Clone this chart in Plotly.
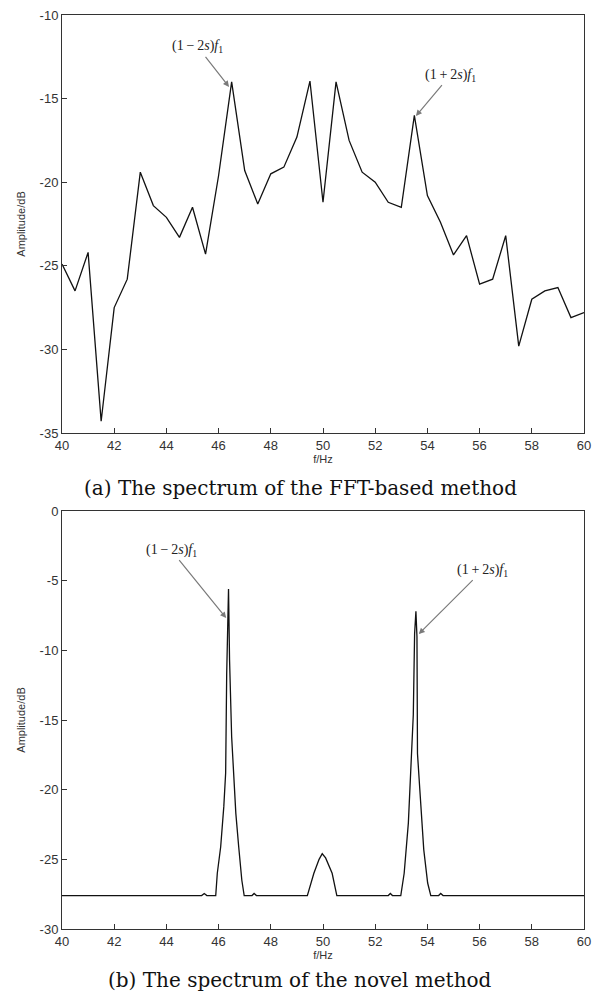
import plotly.graph_objects as go
from plotly.subplots import make_subplots

# ---- (a) FFT-based spectrum (0.5 Hz resolution) ----
freq_a = [40.0, 40.5, 41.0, 41.5, 42.0, 42.5, 43.0, 43.5, 44.0, 44.5, 45.0, 45.5,
          46.0, 46.5, 47.0, 47.5, 48.0, 48.5, 49.0, 49.5, 50.0, 50.5, 51.0, 51.5,
          52.0, 52.5, 53.0, 53.5, 54.0, 54.5, 55.0, 55.5, 56.0, 56.5, 57.0, 57.5,
          58.0, 58.5, 59.0, 59.5, 60.0]
amp_a = [-24.9, -26.5, -24.2, -34.3, -27.5, -25.8, -19.4, -21.4, -22.1, -23.3, -21.5, -24.3,
         -19.6, -14.0, -19.3, -21.3, -19.5, -19.1, -17.3, -13.95, -21.2, -14.0, -17.5, -19.4,
         -20.0, -21.2, -21.5, -16.0, -20.8, -22.4, -24.35, -23.2, -26.1, -25.8, -23.2, -29.8,
         -27.0, -26.5, -26.3, -28.1, -27.8]

# ---- (b) novel method spectrum (read points) ----
freq_b = [40.0, 45.35, 45.45, 45.55, 45.89, 45.95, 46.08, 46.20, 46.27, 46.31, 46.38,
          46.42, 46.50, 46.57, 46.66, 46.77, 46.89, 46.98, 47.28, 47.36, 47.45,
          49.40, 49.65, 49.85, 49.97, 50.10, 50.35, 50.53,
          52.50, 52.58, 52.66, 52.98, 53.11, 53.27, 53.38, 53.46, 53.51, 53.56,
          53.60, 53.62, 53.71, 53.86, 54.01, 54.13, 54.43, 54.51, 54.60, 60.0]
amp_b = [-27.6, -27.6, -27.45, -27.6, -27.6, -26.0, -24.1, -21.2, -18.8, -11.7, -5.6,
         -10.7, -16.2, -19.1, -21.7, -24.1, -26.5, -27.6, -27.6, -27.45, -27.6,
         -27.6, -26.0, -25.0, -24.6, -24.9, -26.0, -27.6,
         -27.6, -27.45, -27.6, -27.6, -26.0, -22.4, -17.9, -14.6, -8.8, -7.2,
         -9.0, -17.4, -20.0, -24.3, -26.7, -27.6, -27.6, -27.45, -27.6, -27.6]

x_ticks = [40, 42, 44, 46, 48, 50, 52, 54, 56, 58, 60]
y_ticks_a = [-10, -15, -20, -25, -30, -35]
y_ticks_b = [0, -5, -10, -15, -20, -25, -30]

label_minus = "(1\u2009\u2212\u20092<i>s</i>)<i>f</i><sub>1</sub>"
label_plus = "(1\u2009+\u20092<i>s</i>)<i>f</i><sub>1</sub>"
title_a = "(a) The spectrum of the FFT-based method"
title_b = "(b) The spectrum of the novel method"

# page body has an 8px margin; keep the figure inside the body box
W, H, OFF = 584, 983, 8
def px_x(p):
    return (p - OFF) / W
def px_y(p):
    return 1 - (p - OFF) / H

fig = make_subplots(rows=2, cols=1)
fig.add_trace(go.Scatter(x=freq_a, y=amp_a, mode="lines",
                         line=dict(color="#111", width=1.3), showlegend=False), row=1, col=1)
fig.add_trace(go.Scatter(x=freq_b, y=amp_b, mode="lines",
                         line=dict(color="#111", width=1.3), showlegend=False), row=2, col=1)

tickfont = dict(family="Liberation Sans, Arial", size=13, color="#333")
axcommon = dict(showgrid=False, zeroline=False, showline=True, linecolor="#333", linewidth=1,
                mirror=True, ticks="inside", ticklen=5, tickcolor="#333", tickfont=tickfont,
                automargin=False, ticklabeloverflow="allow")

fig.update_xaxes(**axcommon, range=[40, 60], tickvals=x_ticks,
                 ticktext=[str(v) for v in x_ticks],
                 title=dict(text="f/Hz", font=dict(family="Liberation Sans, Arial", size=11, color="#333"),
                            standoff=0))
fig.update_xaxes(domain=[px_x(62), px_x(584)], row=1, col=1)
fig.update_xaxes(domain=[px_x(62), px_x(584)], row=2, col=1)
fig.update_yaxes(**axcommon,
                 title=dict(text="Amplitude/dB", font=dict(family="Liberation Sans, Arial", size=11, color="#333"),
                            standoff=11))
fig.update_yaxes(range=[-35, -10], tickvals=y_ticks_a, ticktext=[str(v) for v in y_ticks_a],
                 domain=[px_y(433), px_y(15)], row=1, col=1)
fig.update_yaxes(range=[-30, 0], tickvals=y_ticks_b, ticktext=[str(v) for v in y_ticks_b],
                 domain=[px_y(929), px_y(511)], row=2, col=1)

gray = "#7a7a7a"
annfont = dict(family="Liberation Serif, Times New Roman", size=14, color="#222")
# arrow head at the peak (x, y), label centred at (ax, ay)
anns = [
    dict(x=46.40, y=-14.3, ax=45.2, ay=-11.9, xref="x", yref="y", axref="x", ayref="y", text=label_minus),
    dict(x=53.56, y=-16.04, ax=54.88, ay=-13.6, xref="x", yref="y", axref="x", ayref="y", text=label_plus),
    dict(x=46.29, y=-7.68, ax=44.18, ay=-2.8, xref="x2", yref="y2", axref="x2", ayref="y2", text=label_minus),
    dict(x=53.67, y=-8.83, ax=56.12, ay=-4.24, xref="x2", yref="y2", axref="x2", ayref="y2", text=label_plus),
]
for a in anns:
    fig.add_annotation(**a, showarrow=True, arrowhead=2, arrowsize=1, standoff=0,
                       arrowwidth=1.2, arrowcolor=gray, font=annfont)

titlefont = dict(family="DejaVu Serif", size=20, color="#111")
fig.add_annotation(x=px_x(300), y=px_y(488), xref="paper", yref="paper", text=title_a,
                   showarrow=False, font=titlefont, xanchor="center", yanchor="middle")
fig.add_annotation(x=px_x(300), y=px_y(980), xref="paper", yref="paper", text=title_b,
                   showarrow=False, font=titlefont, xanchor="center", yanchor="middle")

fig.update_layout(width=W, height=H, autosize=False,
                  margin=dict(l=0, r=0, t=0, b=0),
                  paper_bgcolor="white", plot_bgcolor="white")
fig.write_html("out.html")
